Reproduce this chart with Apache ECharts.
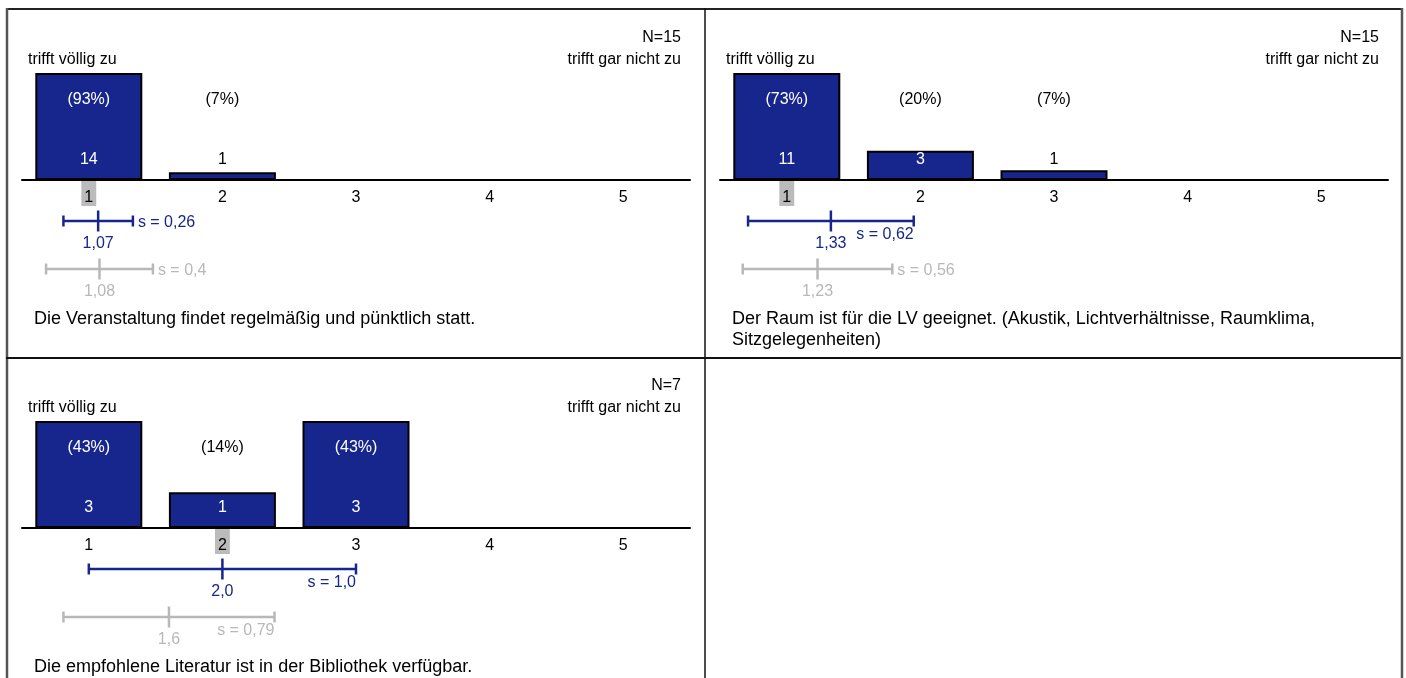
<!DOCTYPE html>
<html><head><meta charset="utf-8">
<script src="https://cdn.jsdelivr.net/npm/echarts@6.0.0/dist/echarts.min.js"></script>
<style>html,body{margin:0;padding:0;background:#fff}#c{width:1406px;height:678px}</style>
</head><body><div id="c"></div>
<script>
const categories = ['1','2','3','4','5'];
const counts1 = [14,1,0,0,0];
const counts2 = [11,3,1,0,0];
const counts3 = [3,1,3,0,0];
const percents1 = [93,7,0,0,0];
const percents2 = [73,20,7,0,0];
const percents3 = [43,14,43,0,0];
const nValues = [15,15,7];
const medians = ['1','1','2'];
const means = [1.07,1.33,2.0];
const sds = [0.26,0.62,1.0];
const meanLabels = ['1,07','1,33','2,0'];
const sdLabels = ['0,26','0,62','1,0'];
const refMeans = [1.08,1.23,1.6];
const refSds = [0.4,0.56,0.79];
const refMeanLabels = ['1,08','1,23','1,6'];
const refSdLabels = ['0,4','0,56','0,79'];
const questions = [
  'Die Veranstaltung findet regelmäßig und pünktlich statt.',
  'Der Raum ist für die LV geeignet. (Akustik, Lichtverhältnisse, Raumklima, Sitzgelegenheiten)',
  'Die empfohlene Literatur ist in der Bibliothek verfügbar.'
];
const leftPole = 'trifft völlig zu';
const rightPole = 'trifft gar nicht zu';

const FONT = "'Liberation Sans', Arial, sans-serif";
const BLUE = '#17268c';
const GRAY = '#b8b8b8';
const countsAll = [counts1, counts2, counts3];
const pctAll = [percents1, percents2, percents3];
const origins = [[0,0],[698,0],[0,348]];

const chart = echarts.init(document.getElementById('c'), null, {renderer:'canvas'});
const grid = [], xAxis = [], yAxis = [], series = [], graphic = [];

function txt(x, y, text, size, fill, align, extra) {
  return Object.assign({type:'text', x:x, y:y, silent:true, style:{text:text, font: size+'px '+FONT, fill:fill,
    align:align, textAlign:align, verticalAlign:'middle', textVerticalAlign:'middle'}}, extra||{});
}

for (let i = 0; i < 3; i++) {
  const [ox, oy] = origins[i];
  const counts = countsAll[i], pcts = pctAll[i];
  const maxC = Math.max.apply(null, counts);
  grid.push({left: 22+ox, top: 73+oy, width: 668, height: 107, containLabel:false});
  const med = medians[i];
  xAxis.push({type:'category', gridIndex:i, data:categories, boundaryGap:true,
    axisLine:{lineStyle:{color:'#000', width:2}},
    axisTick:{alignWithLabel:true, inside:true, length:5, lineStyle:{color:'#000', width:2}},
    axisLabel:{margin:1, color:'#000', fontFamily:FONT, fontSize:16,
      formatter: v => v === med ? '{hl|'+v+'}' : '{n|'+v+'}',
      rich:{hl:{backgroundColor:'#bbbbbb', padding:[9,3,0,3], fontSize:16, fontFamily:FONT, color:'#000'},
            n:{padding:[9,3,0,3], fontSize:16, fontFamily:FONT, color:'#000'}}}
  });
  xAxis.push({type:'value', gridIndex:i, min:0.5, max:5.5, show:false});
  yAxis.push({type:'value', gridIndex:i, min:0, max:maxC, show:false});
  series.push({type:'bar', xAxisIndex:2*i, yAxisIndex:i, data:counts, barWidth:107,
    itemStyle:{color:BLUE, borderColor:'#000', borderWidth:2}, silent:true, z:2});
  series.push({type:'custom', xAxisIndex:2*i, yAxisIndex:i, silent:true, z:5,
    data: counts.map((c,k)=>[k,c]),
    renderItem: (params, api) => {
      const c = api.value(1);
      if (!c) return null;
      const p = pcts[params.dataIndex];
      const base = api.coord([api.value(0), 0]);
      const top = api.coord([api.value(0), c]);
      const yP = base[1]-80, yC = base[1]-20;
      return {type:'group', children:[
        txt(base[0], yP, '('+p+'%)', 16, top[1] < yP ? '#fff' : '#000', 'center'),
        txt(base[0], yC, String(c), 16, top[1] < yC ? '#fff' : '#000', 'center')
      ]};
    }
  });
  const mArr = [means[i], refMeans[i]], sArr = [sds[i], refSds[i]];
  const mLab = [meanLabels[i], refMeanLabels[i]], sLab = [sdLabels[i], refSdLabels[i]];
  series.push({type:'custom', xAxisIndex:2*i+1, yAxisIndex:i, silent:true, z:5,
    data: mArr.map((m,k)=>[m, sArr[k]]),
    renderItem: (params, api) => {
      const k = params.dataIndex;
      const mean = api.value(0), sd = api.value(1);
      const m = api.coord([mean, 0]), lo = api.coord([mean-sd, 0]), hi = api.coord([mean+sd, 0]);
      const y = m[1] + (k === 0 ? 41 : 89);
      const col = k === 0 ? BLUE : GRAY;
      const ls = {stroke:col, lineWidth:2.5};
      const ch = [
        {type:'line', shape:{x1:lo[0], y1:y, x2:hi[0], y2:y}, style:ls},
        {type:'line', shape:{x1:lo[0], y1:y-5.5, x2:lo[0], y2:y+5.5}, style:ls},
        {type:'line', shape:{x1:hi[0], y1:y-5.5, x2:hi[0], y2:y+5.5}, style:ls},
        {type:'line', shape:{x1:m[0], y1:y-10.5, x2:m[0], y2:y+10.5}, style:ls},
        txt(m[0], y+23, mLab[k], 16, col, 'center')
      ];
      if (mean + sd < 1.9) ch.push(txt(hi[0]+5, y+2, 's = '+sLab[k], 16, col, 'left'));
      else ch.push(txt(hi[0], y+14, 's = '+sLab[k], 16, col, 'right'));
      return {type:'group', children:ch};
    }
  });
  graphic.push(txt(681+ox, 38+oy, 'N='+nValues[i], 16, '#000', 'right'));
  graphic.push(txt(28+ox, 60+oy, leftPole, 16, '#000', 'left'));
  graphic.push(txt(681+ox, 60+oy, rightPole, 16, '#000', 'right'));
  graphic.push({type:'text', x:34+ox, y:309+oy, silent:true,
    style:{text:questions[i], font:'18px '+FONT, fill:'#000', width:655, overflow:'break', lineHeight:21,
      align:'left', textAlign:'left', verticalAlign:'top', textVerticalAlign:'top'}});
}
// table borders
const bl = (x1,y1,x2,y2,c,w) => ({type:'line', silent:true, shape:{x1,y1,x2,y2}, style:{stroke:c, lineWidth:w}});
graphic.push(bl(6,9,1403,9,'#222',2));
graphic.push(bl(7,8,7,678,'#555',2.5));
graphic.push(bl(705,8,705,678,'#111',1.5));
graphic.push(bl(6,358,1403,358,'#111',2));
graphic.push(bl(1402,8,1402,678,'#555',2.5));

chart.setOption({animation:false, grid, xAxis, yAxis, series, graphic});
</script></body></html>
